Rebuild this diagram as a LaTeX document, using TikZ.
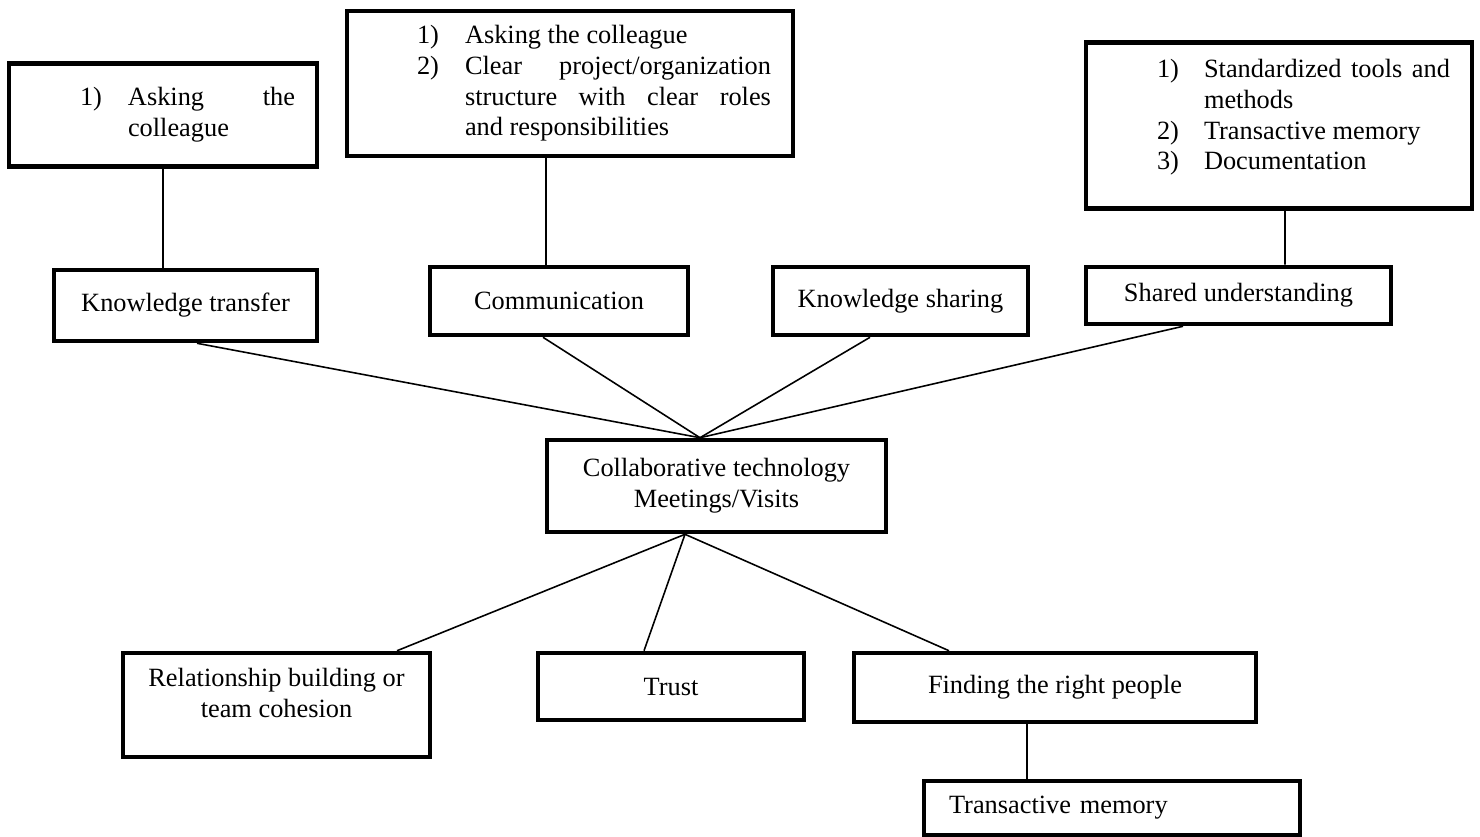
\documentclass[tikz,border=0pt]{standalone}
\usepackage{fontspec}
\setmainfont{Liberation Serif}
\usepackage{tikz}
\usetikzlibrary{calc}

\begin{document}
\begin{tikzpicture}[x=0.02cm,y=-0.02cm]
\fontsize{15}{17.5}\selectfont
\hyphenpenalty=10000
\tikzstyle{every node}=[draw,line width=2.6pt,inner sep=0pt,align=center];
\tikzstyle{link}=[line width=0.9pt];
\useasboundingbox (0,0) rectangle (1480,836);
% list boxes
\node[minimum width=6.16cm,minimum height=2.06cm] (x1) at (163,115) {\begin{tabular}{@{\hspace{1.42cm}}p{0.96cm}@{}p{3.34cm}@{\hspace{0.44cm}}}
1) & Asking the\linebreak colleague
\end{tabular}};
\node[minimum width=8.92cm,minimum height=2.90cm] (x2) at (570,83.5) {\begin{tabular}{@{\hspace{1.40cm}}p{0.96cm}@{}p{6.12cm}@{\hspace{0.44cm}}}
1) & Asking the colleague\\
2) & Clear project/organization\linebreak structure with clear roles\linebreak and responsibilities
\end{tabular}};
\node[minimum width=7.72cm,minimum height=3.32cm] (x3) at (1279,125.5) {\begin{tabular}{@{\hspace{1.42cm}}p{0.94cm}@{}p{4.92cm}@{\hspace{0.44cm}}}
1) & Standardized tools and\linebreak methods\\
2) & Transactive memory\\
3) & Documentation\rule[-0.5cm]{0pt}{0.5cm}
\end{tabular}};
% main boxes
\node[minimum width=5.26cm,minimum height=1.42cm] (x4) at (185.5,305.5) {Knowledge transfer};
\node[minimum width=5.16cm,minimum height=1.36cm] (x5) at (559,301) {Communication};
\node[minimum width=5.10cm,minimum height=1.36cm] (x6) at (900.5,301) {Knowledge sharing};
\node[minimum width=6.10cm,minimum height=1.14cm] (x7) at (1238.5,295.5) {Shared understanding};
\node[minimum width=6.78cm,minimum height=1.84cm] (x8) at (716.5,486) {Collaborative technology\\Meetings/Visits};
\node[minimum width=6.14cm,minimum height=2.08cm] (x9) at (276.5,705) {Relationship building or\\team cohesion\rule[-0.5cm]{0pt}{0.5cm}};
\node[minimum width=5.32cm,minimum height=1.34cm] (x10) at (671,686.5) {Trust};
\node[minimum width=8.04cm,minimum height=1.38cm] (x11) at (1055,687.5) {Finding the right people};
\node[minimum height=1.08cm,text width=6.52cm,align=left,inner xsep=0.5cm] (x12) at (1112,808) {Transactive memory};
% links
\draw[link] (x1.south) -- ($(x4.north)+(-22.5,0)$);
\draw[link] ($(x2.south)+(-24,0)$) -- ($(x5.north)+(-13,0)$);
\draw[link] ($(x3.south)+(6,0)$) -- ($(x7.north)+(46.5,0)$);
\draw[link] ($(x4.south)+(11.5,0)$) -- ($(x8.north)+(-16.5,0)$);
\draw[link] ($(x5.south)+(-16,0)$) -- ($(x8.north)+(-16.5,0)$);
\draw[link] ($(x6.south)+(-30.5,0)$) -- ($(x8.north)+(-16.5,0)$);
\draw[link] ($(x7.south)+(-55.5,0)$) -- ($(x8.north)+(-16.5,0)$);
\draw[link] ($(x8.south)+(-31.5,0)$) -- ($(x9.north)+(120.5,0)$);
\draw[link] ($(x8.south)+(-31.5,0)$) -- ($(x10.north)+(-27,0)$);
\draw[link] ($(x8.south)+(-31.5,0)$) -- ($(x11.north)+(-106,0)$);
\draw[link] ($(x11.south)+(-28,0)$) -- ($(x12.north)+(-85,0)$);
\end{tikzpicture}
\end{document}
